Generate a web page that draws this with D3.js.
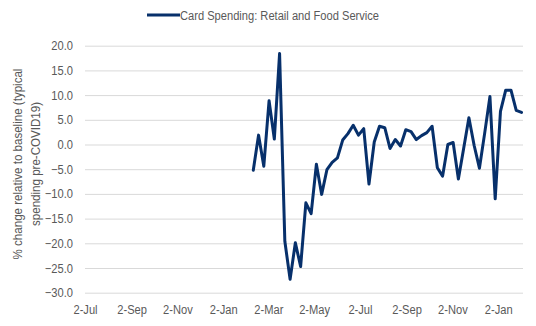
<!DOCTYPE html>
<html>
<head>
<meta charset="utf-8">
<script src="https://cdn.jsdelivr.net/npm/d3@7/dist/d3.min.js"></script>
<style>
  html, body { margin: 0; padding: 0; background: #fff; }
  svg { display: block; font-family: "Liberation Sans", Arial, sans-serif; }
</style>
</head>
<body>
<svg id="chart" width="536" height="326"></svg>
<script>
// Weekly observation dates
const weeks = [
  "2020-02-11","2020-02-18","2020-02-25","2020-03-03","2020-03-10","2020-03-17",
  "2020-03-24","2020-03-31","2020-04-07","2020-04-14","2020-04-21","2020-04-28",
  "2020-05-05","2020-05-12","2020-05-19","2020-05-26","2020-06-02","2020-06-09",
  "2020-06-16","2020-06-23","2020-06-30","2020-07-07","2020-07-14","2020-07-21",
  "2020-07-28","2020-08-04","2020-08-11","2020-08-18","2020-08-25","2020-09-01",
  "2020-09-08","2020-09-15","2020-09-22","2020-09-29","2020-10-06","2020-10-13",
  "2020-10-20","2020-10-27","2020-11-03","2020-11-10","2020-11-17","2020-11-24",
  "2020-12-01","2020-12-08","2020-12-15","2020-12-22","2020-12-29","2021-01-05",
  "2021-01-12","2021-01-19","2021-01-26","2021-02-02"
];

// Card spending, % change vs. pre-COVID baseline
const cardSpending = [
  -5.2, 1.9, -4.4, 8.85, 1.1, 18.4,
  -19.6, -27.3, -19.9, -24.7, -11.8, -14.0,
  -4.0, -10.1, -5.1, -3.6, -2.7, 0.9,
  2.2, 3.9, 1.9, 3.2, -8.0, 0.5,
  3.7, 3.4, -0.8, 1.0, -0.3, 3.0,
  2.6, 1.0, 1.8, 2.4, 3.7, -4.7,
  -6.4, 0.0, 0.4, -7.0, -0.8, 5.4,
  -0.2, -4.8, 2.3, 9.7, -11.0, 6.7,
  11.0, 11.0, 6.9, 6.5
];

const seriesName = "Card Spending: Retail and Food Service";
const yTicks = [20, 15, 10, 5, 0, -5, -10, -15, -20, -25, -30];
const xTickDates = [
  "2019-07-02","2019-09-02","2019-11-02","2020-01-02","2020-03-02",
  "2020-05-02","2020-07-02","2020-09-02","2020-11-02","2021-01-02"
];
const yTitle = ["% change relative to baseline (typical", "spending pre-COVID19)"];

const parse = d3.utcParse("%Y-%m-%d");
const data = weeks.map((w, i) => ({ date: parse(w), value: cardSpending[i] }));

const svg = d3.select("#chart");
const plot = { left: 85, right: 523, top: 45.7, bottom: 292.7 };

// Text is set slightly condensed, like a narrow sans
const squeeze = 0.89;
const fontSize = 12.5;
const textColor = "#595959";

const x = d3.scaleUtc()
  .domain([parse("2019-07-02"), parse("2021-02-04")])
  .range([plot.left, plot.right]);

const y = d3.scaleLinear()
  .domain([-30, 20])
  .range([plot.bottom, plot.top]);

// Horizontal gridlines with value labels
const yAxis = d3.axisLeft(y)
  .tickValues(yTicks)
  .tickFormat(d3.format(".1f"))
  .tickSize(-(plot.right - plot.left))
  .tickPadding(12);

svg.append("g")
  .attr("transform", `translate(${plot.left},0)`)
  .call(yAxis)
  .call(g => g.select(".domain").remove())
  .call(g => g.selectAll(".tick line").attr("stroke", "#d9d9d9").attr("stroke-width", 1))
  .call(g => g.selectAll(".tick text")
    .attr("fill", textColor)
    .attr("font-size", fontSize)
    .attr("font-family", "Liberation Sans, Arial, sans-serif")
    .attr("x", -12 / squeeze)
    .attr("transform", `scale(${squeeze},1)`));

// Date axis labels
const xAxis = d3.axisBottom(x)
  .tickValues(xTickDates.map(parse))
  .tickFormat(d3.utcFormat("%-d-%b"))
  .tickSize(0)
  .tickPadding(12);

svg.append("g")
  .attr("transform", `translate(0,${plot.bottom})`)
  .call(xAxis)
  .call(g => g.select(".domain").remove())
  .call(g => g.selectAll(".tick text")
    .attr("fill", textColor)
    .attr("font-size", fontSize)
    .attr("font-family", "Liberation Sans, Arial, sans-serif")
    .attr("transform", `scale(${squeeze},1)`));

// Y-axis title (two lines, rotated)
const titleG = svg.append("text")
  .attr("transform", `translate(22,164) rotate(-90) scale(${squeeze},1)`)
  .attr("text-anchor", "middle")
  .attr("fill", textColor)
  .attr("font-size", 13);
titleG.selectAll("tspan")
  .data(yTitle)
  .join("tspan")
  .attr("x", 0)
  .attr("dy", (d, i) => i === 0 ? 0 : 18)
  .text(d => d);

// Series line
const line = d3.line()
  .x(d => x(d.date))
  .y(d => y(d.value));

const lineColor = "#07306b";

svg.append("path")
  .datum(data)
  .attr("fill", "none")
  .attr("stroke", lineColor)
  .attr("stroke-width", 3)
  .attr("stroke-linejoin", "round")
  .attr("stroke-linecap", "round")
  .attr("d", line);

// Legend
const legend = svg.append("g").attr("transform", "translate(147,15)");
legend.append("line")
  .attr("x1", 0).attr("x2", 33)
  .attr("y1", 0).attr("y2", 0)
  .attr("stroke", lineColor)
  .attr("stroke-width", 3);
legend.append("text")
  .attr("transform", `translate(33,4.5) scale(${squeeze},1)`)
  .attr("fill", textColor)
  .attr("font-size", fontSize)
  .text(seriesName);
</script>
</body>
</html>
